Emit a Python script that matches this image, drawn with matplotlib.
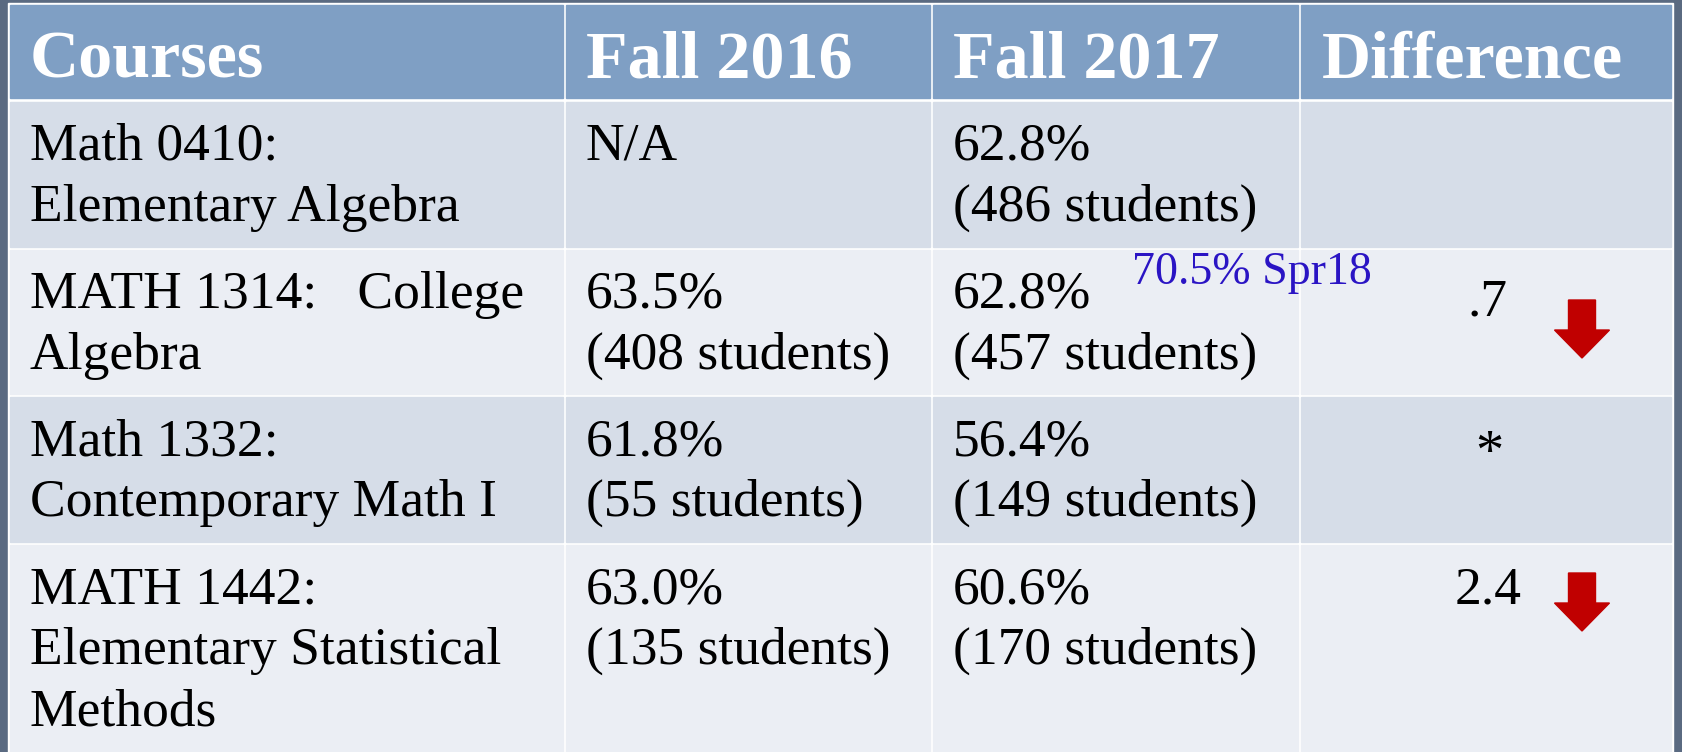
import matplotlib
matplotlib.use("Agg")
import matplotlib.pyplot as plt
from matplotlib.patches import Rectangle, Polygon

# ---- data ----
headers = ["Courses", "Fall 2016", "Fall 2017", "Difference"]
courses = [
    ["Math 0410:", "Elementary Algebra"],
    ["MATH 1314:   College", "Algebra"],
    ["Math 1332:", "Contemporary Math I"],
    ["MATH 1442:", "Elementary Statistical", "Methods"],
]
fall2016_pct = ["N/A", "63.5%", "61.8%", "63.0%"]
fall2016_n = [None, 408, 55, 135]
fall2017_pct = ["62.8%", "62.8%", "56.4%", "60.6%"]
fall2017_n = [486, 457, 149, 170]
difference = ["", ".7", "*", "2.4"]
decrease = [False, True, False, True]
note_text = "70.5% Spr18"
note_row = 1

# ---- layout (pixel space) ----
W, H = 1682, 752
fig = plt.figure(figsize=(W / 100, H / 100), dpi=100)
ax = fig.add_axes([0, 0, 1, 1])
ax.set_xlim(0, W)
ax.set_ylim(H, 0)
ax.axis("off")

bg = "#5a6a81"
hdr = "#7f9fc4"
dark = "#d6dde8"
light = "#ebeef4"
fig.patch.set_facecolor(bg)
ax.add_patch(Rectangle((0, 0), W, H, color=bg, zorder=0))

left, right = 10, 1671
col_edges = [left, 565, 932, 1300, right]
row_edges = [(5, 98), (102, 247), (250, 394), (397, 542), (545, 760)]
row_colors = [hdr, dark, light, dark, light]

# white table base
ax.add_patch(Rectangle((left - 2, 3), right - left + 4, H, color="white", zorder=1))
for (y0, y1), c in zip(row_edges, row_colors):
    for i in range(4):
        x0 = col_edges[i] + (0 if i == 0 else 1.5)
        x1 = col_edges[i + 1] - (0 if i == 3 else 1.5)
        ax.add_patch(Rectangle((x0, y0), x1 - x0, y1 - y0, color=c, zorder=2))

font = ["Liberation Serif", "DejaVu Serif"]
body_fs = 38.5
hdr_fs = 49
line_gap = 61
text_x = [30, 586, 953]

# header
for i, h in enumerate(headers):
    ax.text(text_x[i] if i < 3 else 1322, 77, h, family=font, fontsize=hdr_fs,
            fontweight="bold", color="white", va="baseline", ha="left", zorder=5)

# body
for r in range(4):
    top = row_edges[r + 1][0]
    base = top + 58
    for k, line in enumerate(courses[r]):
        ax.text(text_x[0], base + k * line_gap, line, family=font, fontsize=body_fs,
                color="black", va="baseline", zorder=5)
    ax.text(text_x[1], base, fall2016_pct[r], family=font, fontsize=body_fs,
            color="black", va="baseline", zorder=5)
    if fall2016_n[r] is not None:
        ax.text(text_x[1], base + line_gap, f"({fall2016_n[r]} students)", family=font,
                fontsize=body_fs, color="black", va="baseline", zorder=5)
    ax.text(text_x[2], base, fall2017_pct[r], family=font, fontsize=body_fs,
            color="black", va="baseline", zorder=5)
    ax.text(text_x[2], base + line_gap, f"({fall2017_n[r]} students)", family=font,
            fontsize=body_fs, color="black", va="baseline", zorder=5)
    d = difference[r]
    if d == "*":
        ax.text(1489, base + 14, d, family=font, fontsize=body_fs + 2, color="black",
                va="baseline", ha="center", zorder=5)
    elif d:
        ax.text(1522 if d == "2.4" else 1508, base + (0 if d == "2.4" else 8), d,
                family=font, fontsize=body_fs, color="black", va="baseline",
                ha="right", zorder=5)
    if decrease[r]:
        ytop = top + (50 if r == 1 else 28)
        cx = 1582
        sw, hw, total, head = 13.5, 27.5, 58, 28
        pts = [(cx - sw, ytop), (cx + sw, ytop), (cx + sw, ytop + total - head),
               (cx + hw, ytop + total - head), (cx, ytop + total),
               (cx - hw, ytop + total - head), (cx - sw, ytop + total - head)]
        ax.add_patch(Polygon(pts, closed=True, color="#c00000", zorder=6))

# note
ax.text(1132, row_edges[note_row + 1][0] + 34, note_text, family=font, fontsize=33,
        color="#2a14c4", va="baseline", ha="left", zorder=7)

fig.savefig("out.png", dpi=100, facecolor=bg)
